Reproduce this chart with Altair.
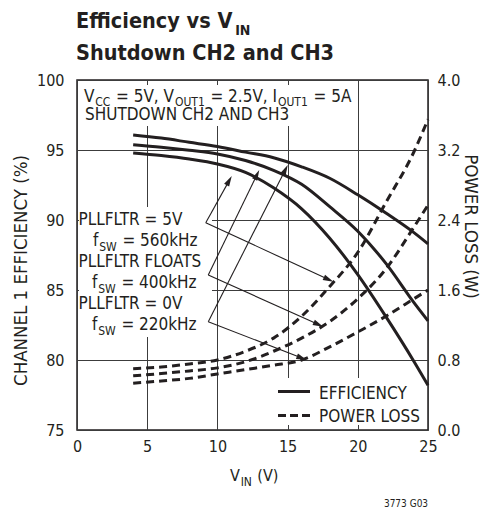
import math
import altair as alt
import pandas as pd

# ---------------- data ----------------
vin = [4, 6, 8, 10, 12, 14, 16, 18, 20, 22, 24, 25]
eff_220khz = [96.07, 95.85, 95.55, 95.25, 94.85, 94.45, 93.8, 92.98, 91.8, 90.5, 89.1, 88.3]
eff_400khz = [95.38, 95.2, 94.98, 94.72, 94.25, 93.55, 92.55, 90.95, 89.2, 86.9, 84.1, 82.8]
eff_560khz = [94.79, 94.6, 94.35, 94.0, 93.4, 92.3, 90.8, 88.7, 86.1, 83.1, 79.9, 78.2]
loss_220khz = [0.535, 0.56, 0.59, 0.64, 0.69, 0.74, 0.80, 0.95, 1.12, 1.30, 1.50, 1.60]
loss_400khz = [0.62, 0.645, 0.675, 0.71, 0.78, 0.90, 1.05, 1.24, 1.50, 1.84, 2.32, 2.57]
loss_560khz = [0.70, 0.72, 0.755, 0.80, 0.90, 1.05, 1.30, 1.64, 2.03, 2.60, 3.18, 3.55]

x_ticks = [0, 5, 10, 15, 20, 25]
eff_ticks = [75, 80, 85, 90, 95, 100]
loss_ticks = [0.0, 0.8, 1.6, 2.4, 3.2, 4.0]

# annotation arrows, in (V_IN, efficiency %) units
arrow_start_vin = [9.17, 9.17, 9.35, 9.35, 9.35, 9.35]
arrow_start_eff = [89.81, 89.81, 86.07, 86.07, 82.74, 82.74]
arrow_end_vin = [11.02, 18.26, 12.98, 17.54, 15.01, 16.36]
arrow_end_eff = [93.14, 85.59, 93.57, 82.38, 93.93, 80.0]

# ---------------- layout / style ----------------
INK = "#231f20"
GRID = "#3c3c3c"
FONT = "DejaVu Sans Condensed"
W, H = 351, 350          # plot area
X0, Y0 = 77, 80          # plot origin on the page
PX_X = W / 25.0
PX_Y = H / 25.0
HEAD = 110               # arrowhead symbol size
HEAD_PATH = "M0,-1L0.55,1L-0.55,1Z"
GAP = 0.8                # small gap between text pieces

DV = {' ': 318, '=': 838, '.': 318, ',': 318, '(': 390, ')': 390, '%': 950,
      'A': 684, 'C': 698, 'D': 770, 'E': 632, 'F': 575, 'G': 775, 'H': 752,
      'I': 295, 'L': 557, 'N': 748, 'O': 787, 'P': 603, 'R': 695, 'S': 635,
      'T': 611, 'U': 732, 'V': 684, 'W': 989, 'Y': 611,
      'a': 613, 'c': 550, 'd': 635, 'e': 615, 'f': 352, 'h': 634, 'i': 278,
      'k': 579, 'n': 634, 'o': 612, 'r': 411, 's': 521, 't': 392, 'u': 634,
      'v': 592, 'w': 818, 'y': 592, 'z': 525}
DVB = {' ': 348, 'C': 734, 'E': 683, 'H': 837, 'I': 372, 'N': 837, 'S': 720,
       'V': 774, 'a': 675, 'c': 593, 'd': 716, 'e': 678, 'f': 435, 'h': 712,
       'i': 343, 'n': 712, 'o': 687, 's': 595, 't': 478, 'u': 712, 'v': 652,
       'w': 924, 'y': 652}


def tw(s, size, bold=False):
    tab = DVB if bold else DV
    dflt = 696 if bold else 636
    return sum(tab.get(c, dflt) for c in s) / 1000.0 * size * 0.9


def rich(pieces, x, base, size, sub, drop, bold=False):
    rows = []
    for i, (text, kind) in enumerate(pieces):
        fs = size if kind == "n" else sub
        yb = base if kind == "n" else base + drop
        lead = len(text) - len(text.lstrip(" "))
        x += tw(" " * lead, fs, bold)
        t = text.lstrip(" ")
        rows.append(dict(x=x - X0, y=yb - Y0, text=t, size=fs))
        x += tw(t, fs, bold) + (GAP if len(pieces) > 1 else 0)
    return rows


# ---------------- tables ----------------
eff_df = pd.DataFrame({
    "vin": vin * 3,
    "eff": eff_220khz + eff_400khz + eff_560khz,
    "series": ["220kHz"] * len(vin) + ["400kHz"] * len(vin) + ["560kHz"] * len(vin),
})
loss_df = pd.DataFrame({
    "vin": vin * 3,
    "loss": loss_220khz + loss_400khz + loss_560khz,
    "series": ["220kHz"] * len(vin) + ["400kHz"] * len(vin) + ["560kHz"] * len(vin),
})

arr_rows, head_rows = [], []
for xs_, ys_, xe, ye in zip(arrow_start_vin, arrow_start_eff, arrow_end_vin, arrow_end_eff):
    dxp = (xe - xs_) * PX_X
    dyp = -(ye - ys_) * PX_Y
    L = math.hypot(dxp, dyp)
    ux, uy = dxp / L, dyp / L
    back = math.sqrt(HEAD) * 0.5
    cx = xe - ux * back / PX_X
    cy = ye + uy * back / PX_Y
    ang = math.degrees(math.atan2(ux, -uy)) % 360
    arr_rows.append(dict(x=xs_, y=ys_, x2=cx, y2=cy))
    head_rows.append(dict(x=cx, y=cy, angle=ang))
arr_df = pd.DataFrame(arr_rows)
head_df = pd.DataFrame(head_rows)

M, S, D = 17, 12, 4.5
normal_txt = []
normal_txt += rich([("V", "n"), ("CC", "s"), (" = 5V, V", "n"), ("OUT1", "s"),
                    (" = 2.5V, I", "n"), ("OUT1", "s"), (" = 5A", "n")],
                   84, 101.5, M, S, D)
normal_txt += rich([("SHUTDOWN CH2 AND CH3", "n")], 85, 120, M, S, D)
normal_txt += rich([("PLLFLTR = 5V", "n")], 78.5, 225, M, S, D)
normal_txt += rich([("f", "n"), ("SW", "s"), (" = 560kHz", "n")], 93, 246, M, S, D)
normal_txt += rich([("PLLFLTR FLOATS", "n")], 78.5, 267, M, S, D)
normal_txt += rich([("f", "n"), ("SW", "s"), (" = 400kHz", "n")], 92, 288, M, S, D)
normal_txt += rich([("PLLFLTR = 0V", "n")], 78.5, 309, M, S, D)
normal_txt += rich([("f", "n"), ("SW", "s"), (" = 220kHz", "n")], 92, 330, M, S, D)
normal_txt += rich([("EFFICIENCY", "n")], 319, 398.5, M, S, D)
normal_txt += rich([("POWER LOSS", "n")], 319, 422, M, S, D)
normal_txt += rich([("V", "n"), ("IN", "s"), (" (V)", "n")], 230, 481, 16, 12, 5)
foot = "3773 G03"
normal_txt += rich([(foot, "n")], 406 - tw(foot, 10) / 2, 507, 10, 10, 0)
normal_df = pd.DataFrame(normal_txt)

bold_txt = []
bold_txt += rich([("Efficiency vs V", "n"), ("IN", "s")], 76, 28, 21.5, 14, 6.5, bold=True)
bold_txt += rich([("Shutdown CH2 and CH3", "n")], 76, 60, 21.5, 14, 6.5, bold=True)
bold_df = pd.DataFrame(bold_txt)

mask_df = pd.DataFrame([
    dict(x=80 - X0, x2=350 - X0, y=85 - Y0, y2=126 - Y0),
    dict(x=79 - X0, x2=212 - X0, y=207 - Y0, y2=337 - Y0),
    dict(x=272 - X0, x2=426.5 - X0, y=378 - Y0, y2=425 - Y0),
])

# ---------------- scales & axes ----------------
xs = alt.Scale(domain=[0, 25], nice=False, zero=False)
ys_eff = alt.Scale(domain=[75, 100], nice=False, zero=False)
ys_loss = alt.Scale(domain=[0, 4], nice=False, zero=False)

common = dict(labelFont=FONT, labelFontSize=16, labelColor=INK, ticks=False,
              domain=False, labelOverlap=False, labelBound=False, gridColor=GRID,
              gridWidth=1, gridOpacity=1)
x_axis = alt.Axis(values=x_ticks, title=None, labelFlush=False, labelPadding=8,
                  grid=True, **common)
y_axis = alt.Axis(values=eff_ticks, grid=True, labelPadding=13,
                  title="CHANNEL 1 EFFICIENCY (%)", titleAngle=270, titleX=20 - X0,
                  titleY=270 - Y0, titleAlign="center", titleBaseline="middle",
                  titleFont=FONT, titleFontSize=18.5, titleFontWeight="normal",
                  titleColor=INK, **common)
r_axis = alt.Axis(values=loss_ticks, orient="right", format=".1f", grid=False,
                  labelPadding=9, title="POWER LOSS (W)", titleAngle=90,
                  titleX=470 - (X0 + W), titleY=226 - Y0, titleAlign="center",
                  titleBaseline="middle", titleFont=FONT, titleFontSize=18.5,
                  titleFontWeight="normal", titleColor=INK, **common)

X = lambda f: alt.X(f, scale=xs, axis=x_axis)
YE = lambda f: alt.Y(f, scale=ys_eff, axis=y_axis)

masks = alt.Chart(mask_df).mark_rect(color="white").encode(
    x=alt.X("x:Q", scale=None), x2="x2:Q", y=alt.Y("y:Q", scale=None), y2="y2:Q")

eff_lines = alt.Chart(eff_df).mark_line(color=INK, strokeWidth=3, interpolate="monotone").encode(
    x=X("vin:Q"), y=YE("eff:Q"), detail="series:N")

arrows = alt.Chart(arr_df).mark_rule(color=INK, strokeWidth=1.1).encode(
    x=X("x:Q"), y=YE("y:Q"), x2="x2:Q", y2="y2:Q")

heads = alt.Chart(head_df).mark_point(shape=HEAD_PATH, filled=True, size=HEAD, color=INK,
                                      opacity=1, strokeWidth=0).encode(
    x=X("x:Q"), y=YE("y:Q"), angle=alt.Angle("angle:Q", scale=None))

txt_n = alt.Chart(normal_df).mark_text(align="left", baseline="alphabetic", font=FONT,
                                       color=INK).encode(
    x=alt.X("x:Q", scale=None), y=alt.Y("y:Q", scale=None), text="text:N",
    size=alt.Size("size:Q", scale=None))
txt_b = alt.Chart(bold_df).mark_text(align="left", baseline="alphabetic", font=FONT,
                                     fontWeight="bold", color=INK).encode(
    x=alt.X("x:Q", scale=None), y=alt.Y("y:Q", scale=None), text="text:N",
    size=alt.Size("size:Q", scale=None))

leg_solid = alt.Chart().mark_rule(color=INK, strokeWidth=3).encode(
    x=alt.value(278 - X0), x2=alt.value(310 - X0), y=alt.value(391.5 - Y0))
leg_dash = alt.Chart().mark_rule(color=INK, strokeWidth=3, strokeDash=[8, 4]).encode(
    x=alt.value(278 - X0), x2=alt.value(310 - X0), y=alt.value(415.5 - Y0))

eff_layer = alt.layer(masks, eff_lines, arrows, heads, leg_solid, leg_dash, txt_n, txt_b)

loss_lines = alt.Chart(loss_df).mark_line(color=INK, strokeWidth=3, strokeDash=[8, 5],
                                          interpolate="monotone").encode(
    x=X("vin:Q"), y=alt.Y("loss:Q", scale=ys_loss, axis=r_axis), detail="series:N")

chart = alt.layer(eff_layer, loss_lines).resolve_scale(y="independent").properties(
    width=W, height=H,
    autosize=alt.AutoSizeParams(type="none"),
    padding={"left": X0 - 8, "top": Y0 - 8, "right": 53, "bottom": 78},
    background="white",
).configure_view(stroke=INK, strokeWidth=1.5)

chart.save("out.html", embed_options={"renderer": "svg", "actions": False})
